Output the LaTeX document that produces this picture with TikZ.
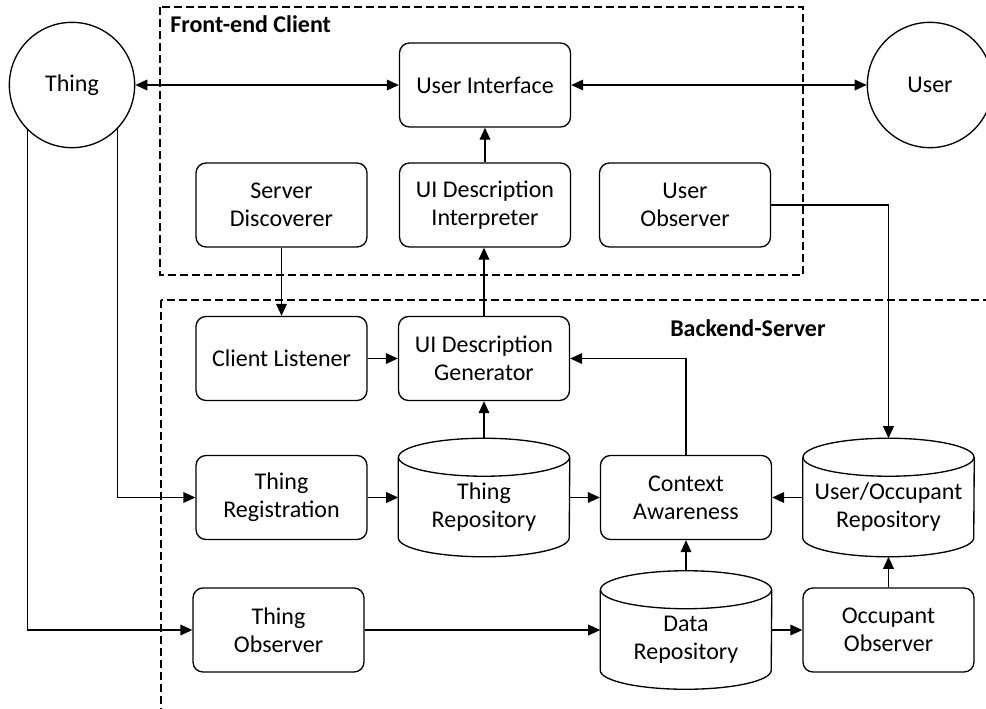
\documentclass[tikz,border=0pt]{standalone}
\usepackage{fontspec}
\setmainfont{Carlito}
\usetikzlibrary{arrows.meta,calc}

% outline of a storage drum drawn around a named (invisible) node
\newcommand\drumoutline[1]{%
  \draw[line width=1pt] ([yshift=-14.25pt]#1.north west) -- ([yshift=14.25pt]#1.south west)
     arc[start angle=180, end angle=0, x radius=85.5, y radius=19]
     -- ([yshift=-14.25pt]#1.north east);
  \draw[line width=1pt] ([yshift=-14.25pt]#1.north) ellipse [x radius=85.5, y radius=19];
}

\tikzset{
  every node/.style={font=\fontsize{18}{21}\selectfont},
  box/.style={draw, line width=1pt, rounded corners=7.5pt, minimum width=128.25pt,
              minimum height=63pt, align=center, inner sep=0pt},
  actor/.style={draw, line width=1pt, circle, minimum size=94pt, inner sep=0pt},
  drum/.style={minimum width=128.25pt, minimum height=88.5pt, inner sep=0pt},
  drumtext/.style={yshift=-7.5pt, align=center},
  flow/.style={line width=1pt, -{Triangle[length=9pt,width=8pt]}},
  flowboth/.style={line width=1pt, {Triangle[length=9pt,width=8pt]}-{Triangle[length=9pt,width=8pt]}},
  group/.style={draw, line width=1pt, dash pattern=on 6pt off 3pt},
  grouplabel/.style={font=\fontsize{18}{21}\selectfont\bfseries, anchor=west, inner sep=0pt},
}

\begin{document}
\begin{tikzpicture}[x=0.75pt, y=-0.75pt]
  \useasboundingbox (0,0) rectangle (986,708);
  \fill[white] (0,0) rectangle (986,708);

  % tier frames
  \draw[group] (160,7) rectangle (803,275);
  \draw[group] (161,300) rectangle (1010,730);
  \node[grouplabel] (felabel) at (170,24) {Front-end Client};
  \node[grouplabel] (belabel) at (670,328) {Backend-Server};

  % actors
  \node[actor] (thing) at (72,85) {Thing};
  \node[actor] (user) at (930,85) {User};

  % front-end client
  \node[box] (ui)  at (485,85)  {User Interface};
  \node[box] (sd)  at (281.5,205) {Server\\Discoverer};
  \node[box] (uii) at (485,205) {UI Description\\Interpreter};
  \node[box] (uo)  at (685,205) {User\\Observer};

  % backend server
  \node[box] (cl)   at (281.5,358.5) {Client Listener};
  \node[box] (uig)  at (484,358.5)   {UI Description\\Generator};
  \node[box] (treg) at (281.5,497.5) {Thing\\Registration};
  \node[box] (ca)   at (686,497.5)   {Context\\Awareness};
  \node[box] (tobs) at (278.5,630)   {Thing\\Observer};
  \node[box] (oobs) at (888.5,630)   {Occupant\\Observer};

  \node[drum] (trepo)  at (484,497.5)   {};
  \node[drum] (uorepo) at (888.5,497.5) {};
  \node[drum] (drepo)  at (686,630)     {};
  \drumoutline{trepo}
  \drumoutline{uorepo}
  \drumoutline{drepo}
  \node[drumtext] (trepotext)  at (trepo.center)  {Thing\\Repository};
  \node[drumtext] (uorepotext) at (uorepo.center) {User/Occupant\\Repository};
  \node[drumtext] (drepotext)  at (drepo.center)  {Data\\Repository};

  % connectors
  \draw[flowboth] (thing) -- (ui);
  \draw[flowboth] (ui) -- (user);
  \draw[flow] (uii) -- (ui);
  \draw[flow] (sd) -- (cl);
  \draw[flow] (uig.north) -- (uig.north |- uii.south);
  \draw[flow] (cl) -- (uig);
  \draw[flow] (trepo.north) -- (uig.south);
  \draw[flow] (treg) -- (trepo);
  \draw[flow] (trepo) -- (ca);
  \draw[flow] (uorepo) -- (ca);
  \draw[flow] (ca.north) |- (uig.east);
  \draw[flow] (uo.east) -| (uorepo.north);
  \draw[flow] (drepo) -- (ca);
  \draw[flow] (oobs) -- (uorepo);
  \draw[flow] (tobs) -- (drepo);
  \draw[flow] (drepo) -- (oobs);
  \draw[flow] (thing.-44.4) |- (treg.west);
  \draw[flow] (thing.-135.6) |- (tobs.west);
\end{tikzpicture}
\end{document}
